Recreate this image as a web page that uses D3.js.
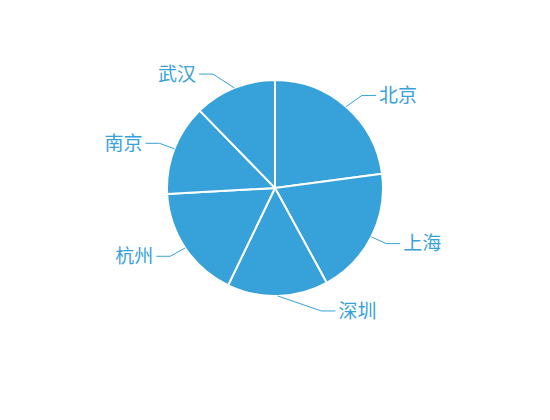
<!DOCTYPE html>
<html>
<head>
<meta charset="utf-8">
<script src="https://cdn.jsdelivr.net/npm/d3@7"></script>
<style>
  body { margin: 0; background: #fff; }
  text { font-family: "Noto Sans CJK SC", "Noto Sans", sans-serif; }
</style>
</head>
<body>
<div id="chart"></div>
<script>
// data
var cities = ["北京", "上海", "深圳", "杭州", "南京", "武汉"];
var values = [229, 192, 151, 170, 136, 123];

var svgWidth = 550;
var svgHeight = 420;
var cx = 275, cy = 188;
var radius = 108;
var lineLen = 15;   // first leader segment
var lineLen2 = 14;  // horizontal segment
var labelGap = 3;
var color = "#37a2da";

var svg = d3.select("#chart")
  .append("svg")
  .attr("width", svgWidth)
  .attr("height", svgHeight);

var g = svg.append("g")
  .attr("transform", `translate(${cx}, ${cy})`);

var data = cities.map((c, i) => ({ name: c, value: values[i] }));

var pie = d3.pie()
  .sort(null)
  .value(d => d.value);

var arc = d3.arc()
  .innerRadius(0)
  .outerRadius(radius);

var arcs = pie(data);

// slices
g.selectAll(".slice").data(arcs).enter().append("path")
  .classed("slice", true)
  .attr("d", arc)
  .attr("fill", color)
  .attr("stroke", "#fff")
  .attr("stroke-width", 2)
  .attr("stroke-linejoin", "round");

// label layout: elbow y from mid angle, end point pulled onto an outer circle
var endR = radius + lineLen + lineLen2;
arcs.forEach(d => {
  var a = (d.startAngle + d.endAngle) / 2;
  var sx = Math.sin(a), sy = -Math.cos(a);
  var dir = sx < 0 ? -1 : 1;
  var y = (radius + lineLen) * sy;
  var ex = dir * Math.sqrt(Math.max(endR * endR - y * y, 0));
  d.line = [[radius * sx, radius * sy], [ex - dir * lineLen2, y], [ex, y]];
  d.tx = ex + dir * labelGap;
  d.ty = y;
  d.dir = dir;
});

g.selectAll(".labelLine").data(arcs).enter().append("polyline")
  .classed("labelLine", true)
  .attr("points", d => d.line.map(p => p.join(",")).join(" "))
  .attr("fill", "none")
  .attr("stroke", color)
  .attr("stroke-width", 1);

g.selectAll(".label").data(arcs).enter().append("text")
  .classed("label", true)
  .attr("x", d => d.tx)
  .attr("y", d => d.ty)
  .attr("dy", "0.35em")
  .attr("text-anchor", d => d.dir < 0 ? "end" : "start")
  .attr("fill", color)
  .style("font-size", "19px")
  .text(d => d.data.name);
</script>
</body>
</html>
